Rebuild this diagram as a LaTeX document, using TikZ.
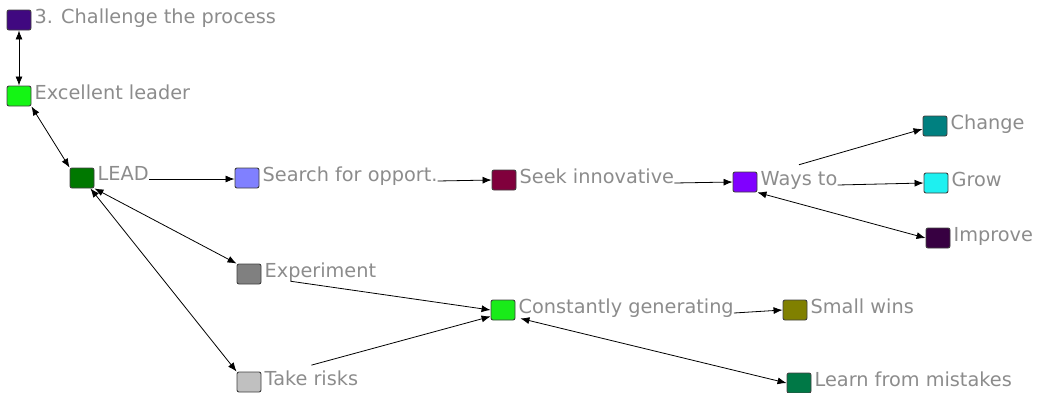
\documentclass[tikz,border=0pt]{standalone}
\usepackage{fontspec}
\setmainfont{DejaVu Sans}
\usetikzlibrary{arrows.meta,positioning}

\definecolor{txtgray}{RGB}{140,140,140}
\definecolor{cChallenge}{RGB}{64,8,128}
\definecolor{cExcellent}{RGB}{20,245,20}
\definecolor{cLead}{RGB}{0,120,0}
\definecolor{cSearch}{RGB}{128,128,255}
\definecolor{cSeek}{RGB}{128,0,60}
\definecolor{cWays}{RGB}{128,0,255}
\definecolor{cChange}{RGB}{0,128,128}
\definecolor{cGrow}{RGB}{30,240,240}
\definecolor{cImprove}{RGB}{55,0,65}
\definecolor{cExperiment}{RGB}{128,128,128}
\definecolor{cConstantly}{RGB}{25,235,25}
\definecolor{cRisks}{RGB}{192,192,192}
\definecolor{cWins}{RGB}{128,128,0}
\definecolor{cLearn}{RGB}{0,120,70}

\tikzset{
  box/.style={draw=black!75, line width=0.9pt, rounded corners=2pt,
    minimum width=24pt, minimum height=20pt, inner sep=0pt},
  lbl/.style={text=txtgray, inner sep=0pt, anchor=base west,
    font=\fontsize{19.3}{21}\selectfont},
  link/.style={line width=0.8pt, -{Latex[length=9pt,width=7pt]}},
  both/.style={line width=0.8pt, {Latex[length=9pt,width=7pt]}-{Latex[length=9pt,width=7pt]}}
}

\begin{document}
\begin{tikzpicture}[x=1pt,y=-1pt]
        \useasboundingbox (0,0) rectangle (1047,392);

        % Boxes
        \node[box, fill=cChallenge] (challenge) at (19,20) {};
        \node[box, fill=cExcellent] (excellent) at (19,96) {};
        \node[box, fill=cLead] (lead) at (82,178) {};
        \node[box, fill=cSearch] (search) at (247,178) {};
        \node[box, fill=cSeek] (seek) at (504,180) {};
        \node[box, fill=cWays] (ways) at (745,182) {};
        \node[box, fill=cChange] (change) at (935,126) {};
        \node[box, fill=cGrow] (grow) at (936,183) {};
        \node[box, fill=cImprove] (improve) at (938,238) {};
        \node[box, fill=cExperiment] (experiment) at (249,274) {};
        \node[box, fill=cConstantly] (constantly) at (503,310) {};
        \node[box, fill=cRisks] (risks) at (249,382) {};
        \node[box, fill=cWins] (wins) at (795,310) {};
        \node[box, fill=cLearn] (learn) at (799,383) {};

        % Labels
        \node[lbl] (challengeL) at ([xshift=3pt,yshift=-3pt]challenge.east) {3. Challenge the process};
        \node[lbl] (excellentL) at ([xshift=3pt,yshift=-3pt]excellent.east) {Excellent leader};
        \node[lbl] (leadL) at ([xshift=3pt,yshift=-2pt]lead.east) {LEAD};
        \node[lbl] (searchL) at ([xshift=3pt,yshift=-3pt]search.east) {Search for opport.};
        \node[lbl] (seekL) at ([xshift=3pt,yshift=-3pt]seek.east) {Seek innovative};
        \node[lbl] (waysL) at ([xshift=3pt,yshift=-3pt]ways.east) {Ways to};
        \node[lbl] (changeL) at ([xshift=3pt,yshift=-3pt]change.east) {Change};
        \node[lbl] (growL) at ([xshift=3pt,yshift=-3pt]grow.east) {Grow};
        \node[lbl] (improveL) at ([xshift=3pt,yshift=-3pt]improve.east) {Improve};
        \node[lbl] (experimentL) at ([xshift=3pt,yshift=-3pt]experiment.east) {Experiment};
        \node[lbl] (constantlyL) at ([xshift=3pt,yshift=-3pt]constantly.east) {Constantly generating};
        \node[lbl] (risksL) at ([xshift=3pt,yshift=-3pt]risks.east) {Take risks};
        \node[lbl] (winsL) at ([xshift=3pt,yshift=-3pt]wins.east) {Small wins};
        \node[lbl] (learnL) at ([xshift=3pt,yshift=-3pt]learn.east) {Learn from mistakes};

        % Two-way links
        \draw[both] (challenge.south) -- (excellent.north);
        \draw[both] (excellent.south east) -- (lead.north west);
        \draw[both] (lead.south east) -- (experiment.north west);
        \draw[both] ([xshift=-4pt]lead.south east) -- (risks.north west);
        \draw[both] (ways.south east) -- (improve.west);
        \draw[both] ([xshift=5pt,yshift=2pt]constantly.south east) -- (learn.west);

        % One-way links
        \draw[link] ([yshift=1pt]leadL.base east) -- ([yshift=-1pt]search.west);
        \draw[link] (searchL.base east) -- (seek.west);
        \draw[link] (seekL.base east) -- (ways.west);
        \draw[link] ([yshift=6pt]waysL.north) -- ([yshift=-3pt]change.west);
        \draw[link] (waysL.base east) -- (grow.west);
        \draw[link] ([xshift=26pt]experimentL.south west) -- (constantly.west);
        \draw[link] ([yshift=5pt]risksL.north) -- ([yshift=4pt]constantly.south west);
        \draw[link] (constantlyL.base east) -- (wins.west);

    \end{tikzpicture}
\end{document}
